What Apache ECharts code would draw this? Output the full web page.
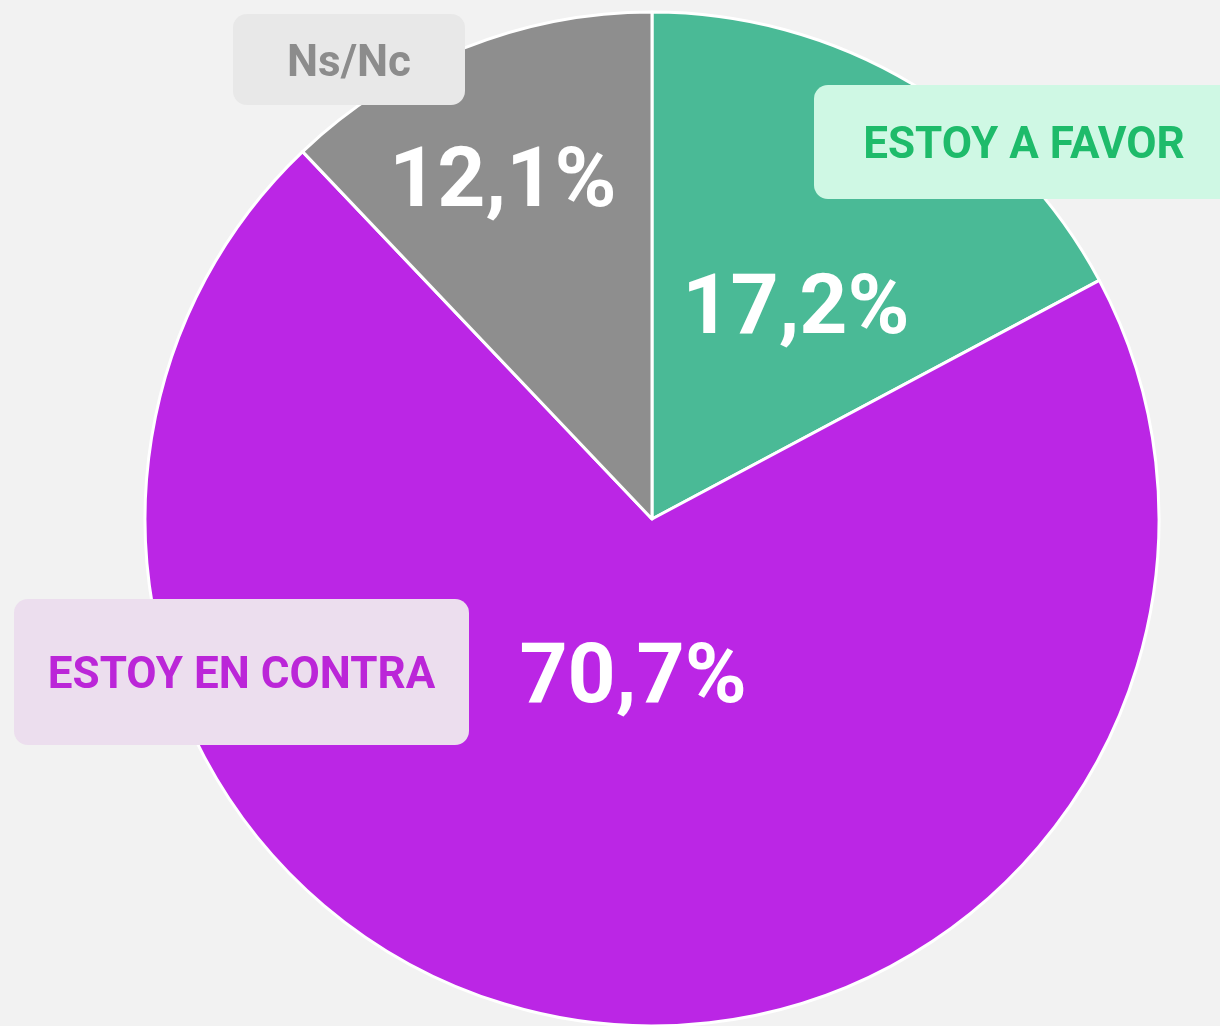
<!DOCTYPE html>
<html lang="es">
<head>
    <meta charset="UTF-8">
    <title>Encuesta</title>
    <script src="https://cdn.jsdelivr.net/npm/echarts@6/dist/echarts.min.js"></script>
    <style>
        html, body { margin: 0; padding: 0; background: #f2f2f2; }
        #chart { width: 1220px; height: 1026px; }
    </style>
</head>
<body>
    <div id="chart"></div>
    <script>
        // datos
        const names = ['ESTOY A FAVOR', 'ESTOY EN CONTRA', 'Ns/Nc'];
        const values = [17.2, 70.7, 12.1];
        const colors = ['#4aba96', '#bb26e5', '#8e8e8e'];

        // cajas de las etiquetas (posicion y estilo)
        const boxes = [
            { x: 814, y: 85, w: 420, h: 114, bg: '#cff8e4', fg: '#1ebb6a' },
            { x: 14, y: 599, w: 455, h: 146, bg: '#ecdeee', fg: '#bb26d8' },
            { x: 233, y: 14, w: 232, h: 91, bg: '#e8e8e8', fg: '#8c8c8c' }
        ];
        // desplazamiento de las etiquetas de porcentaje
        const labelShift = [[12, 13], [22, -91], [-54, -96]];

        const font = 'Roboto, "Noto Sans", sans-serif';
        const myChart = echarts.init(document.getElementById('chart'));

        const graphic = names.map((n, i) => ({
            type: 'group',
            z: 100,
            children: [
                {
                    type: 'rect',
                    z: 100,
                    shape: { x: boxes[i].x, y: boxes[i].y, width: boxes[i].w, height: boxes[i].h, r: 14 },
                    style: { fill: boxes[i].bg }
                },
                {
                    type: 'text',
                    z: 101,
                    x: boxes[i].x + boxes[i].w / 2,
                    y: boxes[i].y + boxes[i].h / 2 + 5,
                    style: {
                        text: n,
                        fill: boxes[i].fg,
                        font: 'bold 44px ' + font,
                        align: 'center',
                        verticalAlign: 'middle'
                    }
                }
            ]
        }));

        const option = {
            backgroundColor: '#f2f2f2',
            animation: false,
            graphic: graphic,
            series: [{
                type: 'pie',
                center: [652, 519],
                radius: [0, 507],
                startAngle: 90,
                clockwise: true,
                silent: true,
                itemStyle: { borderColor: '#ffffff', borderWidth: 3 },
                label: {
                    show: true,
                    position: 'inside',
                    color: '#ffffff',
                    fontFamily: font,
                    fontWeight: 'bold',
                    fontSize: 84,
                    formatter: p => p.value.toFixed(1).replace('.', ',') + '%'
                },
                labelLayout: p => ({ dx: labelShift[p.dataIndex][0], dy: labelShift[p.dataIndex][1] }),
                data: names.map((n, i) => ({ name: n, value: values[i], itemStyle: { color: colors[i] } }))
            }]
        };
        myChart.setOption(option);
    </script>
</body>
</html>
